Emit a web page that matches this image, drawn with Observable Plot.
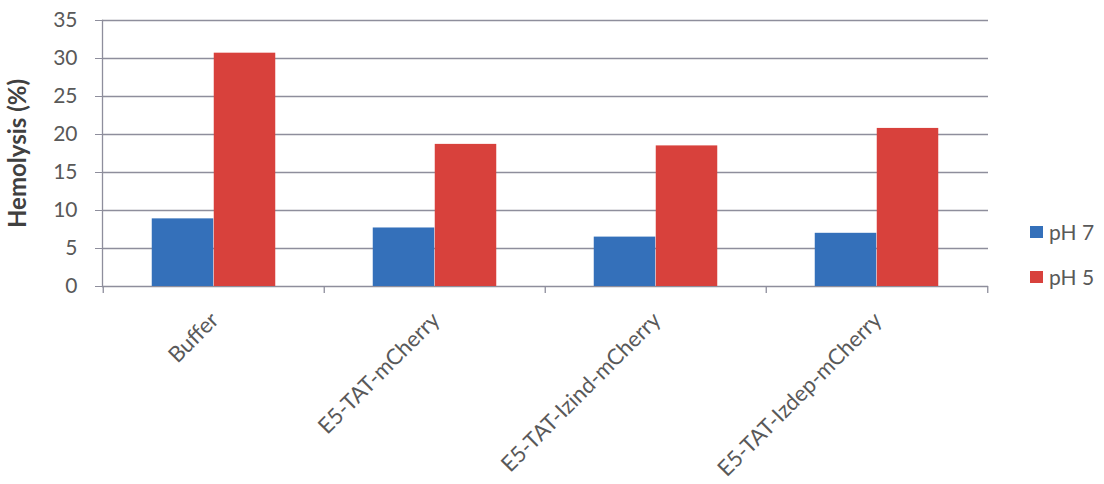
<!DOCTYPE html>
<html>
<head>
<meta charset="utf-8">
<script src="https://cdn.jsdelivr.net/npm/d3@7"></script>
<script src="https://cdn.jsdelivr.net/npm/@observablehq/plot@0.6"></script>
<style>
  body { margin: 0; background: #fff; }
  #chart { position: relative; width: 1104px; height: 484px; font-family: Lato, "Open Sans", sans-serif; }
  #chart g[aria-label="y-axis tick label"] text { font-size: 21px; }
  #chart g[aria-label="x-axis tick label"] text { font-size: 22px; }
  .legend { position: absolute; left: 1030px; top: 209px; color: #595959; font-size: 21px; line-height: 45px; }
  .legend .item { display: flex; align-items: center; }
  .legend .swatch { width: 13px; height: 12px; margin-right: 6px; }
</style>
</head>
<body>
<div id="chart"></div>
<script>
// Hemolysis of red blood cells at neutral and acidic pH
const categories = ["Buffer", "E5-TAT-mCherry", "E5-TAT-Izind-mCherry", "E5-TAT-Izdep-mCherry"];
const series = ["pH 7", "pH 5"];
const ph7 = [8.9, 7.7, 6.5, 7.0];
const ph5 = [30.7, 18.7, 18.5, 20.8];
const yTicks = [0, 5, 10, 15, 20, 25, 30, 35];
const colors = ["#3470ba", "#d8413c"];

const rows = categories.flatMap((c, i) => [
  {category: c, series: "pH 7", value: ph7[i]},
  {category: c, series: "pH 5", value: ph5[i]}
]);

const W = 1104, H = 484;
const mL = 102, mR = 116, mT = 20, mB = 198;
const bw = (W - mL - mR) / categories.length;
const barW = 62;
const gridColor = "#8e8e9c";
const textColor = "#595959";

const chart = Plot.plot({
  width: W,
  height: H,
  marginLeft: mL,
  marginRight: mR,
  marginTop: mT,
  marginBottom: mB,
  style: {fontFamily: "Lato, 'Open Sans', sans-serif", fontSize: "20px", color: textColor, background: "white"},
  x: {domain: categories, padding: 0, axis: null},
  y: {domain: [0, 35], axis: null},
  color: {domain: series, range: colors},
  marks: [
    Plot.ruleY(yTicks, {stroke: gridColor, strokeWidth: 1.3}),
    Plot.frame({anchor: "left", stroke: gridColor, strokeWidth: 1.3}),
    Plot.barY(rows.filter(d => d.series === "pH 7"), {
      x: "category", y: "value", fill: "series",
      insetLeft: bw / 2 - barW, insetRight: bw / 2
    }),
    Plot.barY(rows.filter(d => d.series === "pH 5"), {
      x: "category", y: "value", fill: "series",
      insetLeft: bw / 2, insetRight: bw / 2 - barW
    }),
    // category boundary ticks below the baseline
    Plot.ruleX(categories, {x: d => d, dx: -bw / 2, insetTop: H - mT - mB, insetBottom: -7, stroke: gridColor, strokeWidth: 1.3}),
    Plot.ruleX(categories.slice(-1), {x: d => d, dx: bw / 2, insetTop: H - mT - mB, insetBottom: -7, stroke: gridColor, strokeWidth: 1.3}),
    Plot.axisY({ticks: yTicks, tickSize: 7, tickPadding: 18, stroke: gridColor, label: null}),
    Plot.axisX({tickSize: 0, tickPadding: 30, tickRotate: -45, label: null, dx: 1}),
    Plot.text(["Hemolysis (%)"], {
      frameAnchor: "left", textAnchor: "middle", dx: -84, rotate: -90,
      fontWeight: "bold", fontSize: 24, fill: "#404040"
    })
  ]
});

const root = document.getElementById("chart");
root.appendChild(chart);

const legend = document.createElement("div");
legend.className = "legend";
series.forEach((s, i) => {
  const item = document.createElement("div");
  item.className = "item";
  const sw = document.createElement("span");
  sw.className = "swatch";
  sw.style.background = colors[i];
  const label = document.createElement("span");
  label.textContent = s;
  item.append(sw, label);
  legend.appendChild(item);
});
root.appendChild(legend);
</script>
</body>
</html>
